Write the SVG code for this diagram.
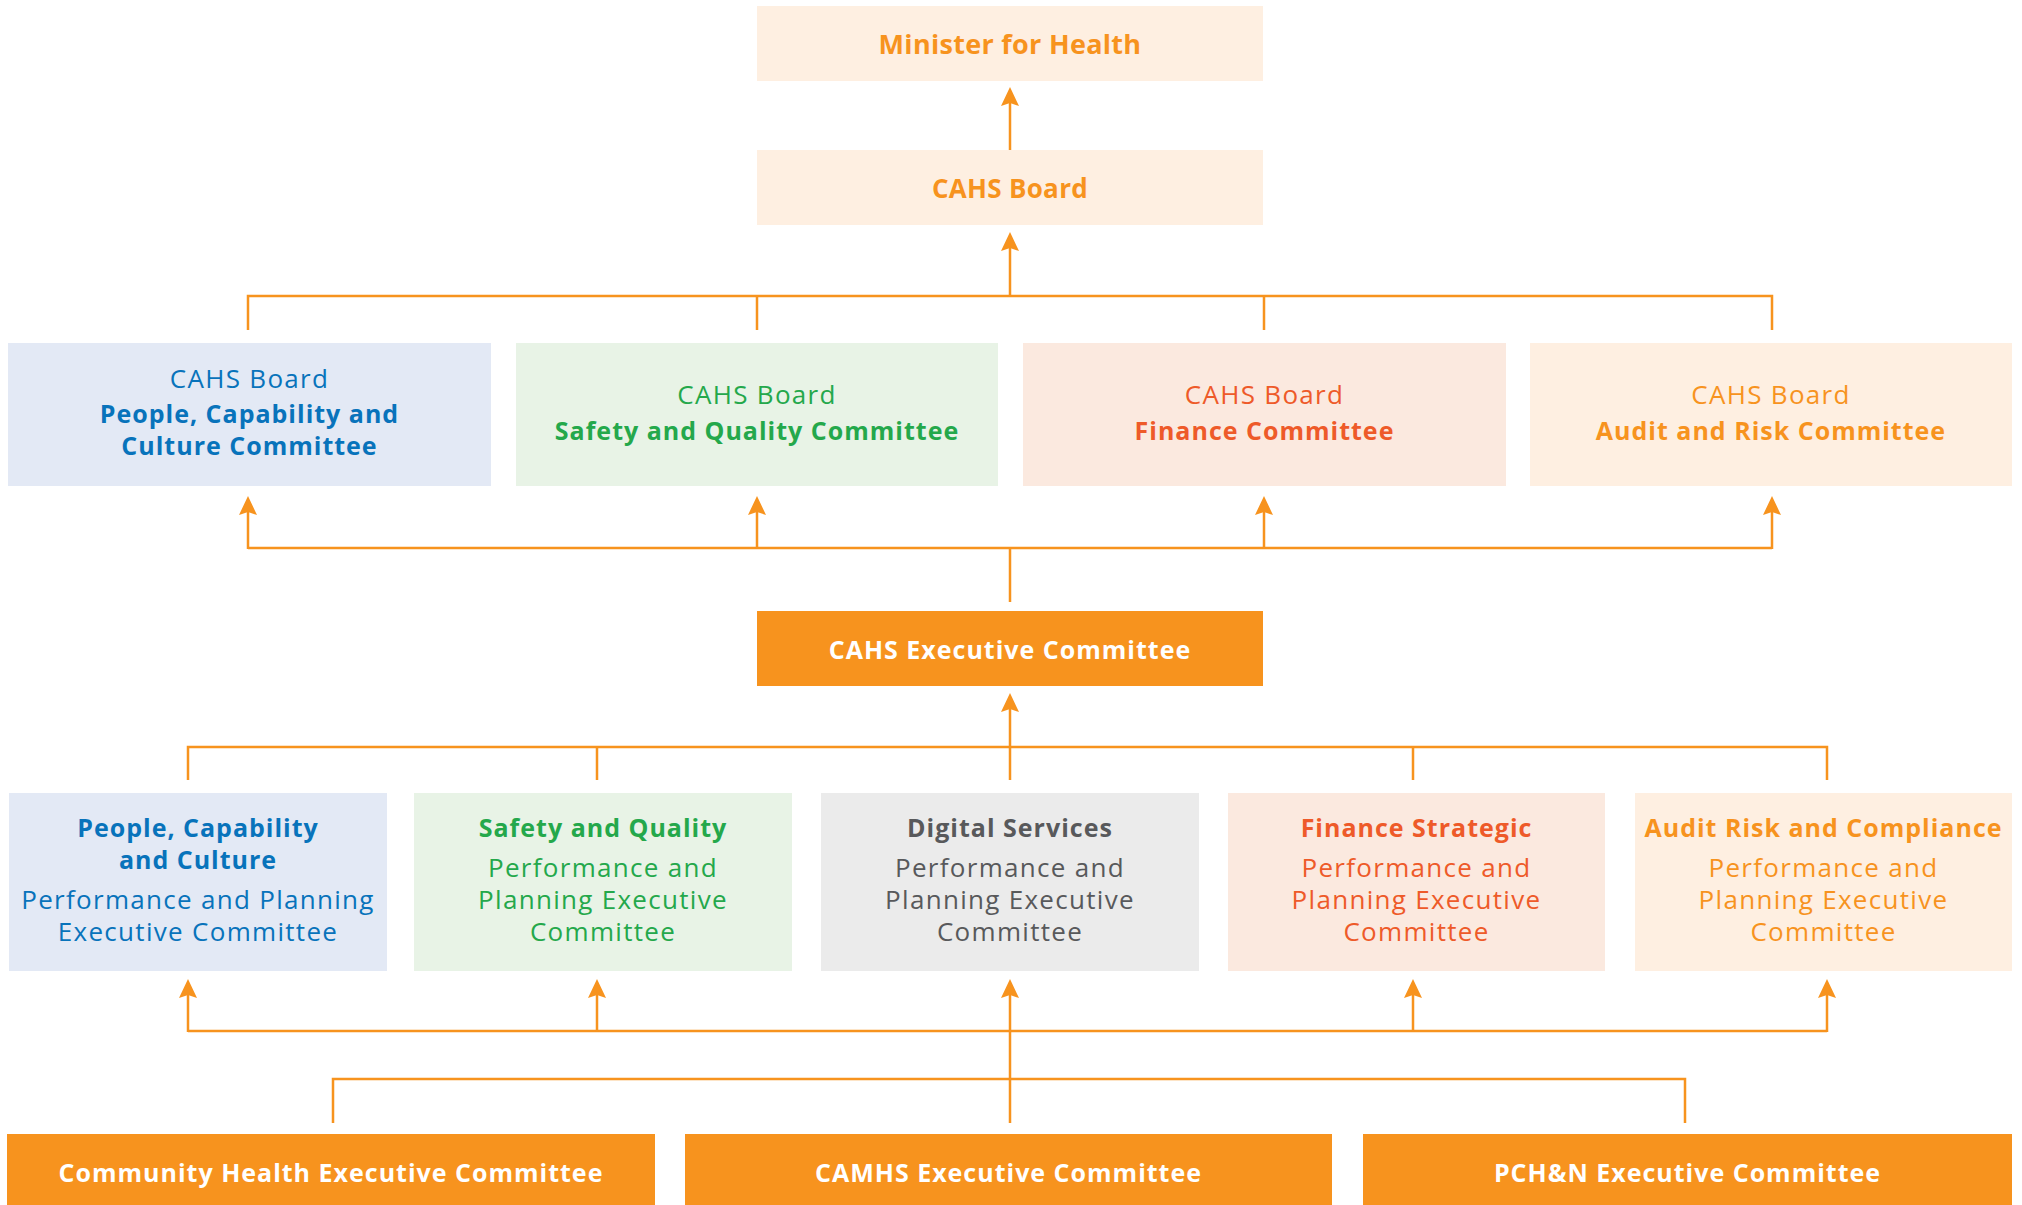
<svg xmlns="http://www.w3.org/2000/svg" width="2022" height="1205" viewBox="0 0 2022 1205">
<style>
.b{font-family:"Open Sans","Noto Sans",sans-serif;font-weight:700;font-size:25px;letter-spacing:1px;text-anchor:middle}
.r{font-family:"Open Sans","Noto Sans",sans-serif;font-weight:400;font-size:26px;letter-spacing:1.3px;text-anchor:middle}
.ln{stroke:#F7931E;stroke-width:2.5;fill:none}
.ar{marker-end:url(#ah)}
.orange{fill:#F7931E}
.peach{fill:#FEEFE1}
.blue{fill:#0873BB}
.green{fill:#24A84B}
.red{fill:#EE5A29}
.gray{fill:#58595B}
.white{fill:#FFFFFF}
</style>
<defs>
<marker id="ah" markerUnits="userSpaceOnUse" viewBox="-10 -10 21 20" refX="0" refY="0" markerWidth="21" markerHeight="20" orient="auto">
<path d="M10,0 L-9,-9 L-6,0 L-9,9 Z" fill="#F7931E"/>
</marker>
</defs>
<rect width="2022" height="1205" fill="#FFFFFF"/>

<g id="connectors">
<line class="ln ar" x1="1010" y1="150" x2="1010" y2="97"/>
<polyline class="ln" points="248,330 248,296 1772,296 1772,330"/>
<line class="ln" x1="757" y1="296" x2="757" y2="330"/>
<line class="ln" x1="1264" y1="296" x2="1264" y2="330"/>
<line class="ln ar" x1="1010" y1="296" x2="1010" y2="242"/>
<line class="ln" x1="1010" y1="602" x2="1010" y2="548"/>
<line class="ln" x1="248" y1="548" x2="1772" y2="548"/>
<line class="ln ar" x1="248" y1="549" x2="248" y2="506"/>
<line class="ln ar" x1="757" y1="549" x2="757" y2="506"/>
<line class="ln ar" x1="1264" y1="549" x2="1264" y2="506"/>
<line class="ln ar" x1="1772" y1="549" x2="1772" y2="506"/>
<polyline class="ln" points="188,780 188,747 1827,747 1827,780"/>
<line class="ln" x1="597" y1="747" x2="597" y2="780"/>
<line class="ln" x1="1413" y1="747" x2="1413" y2="780"/>
<line class="ln ar" x1="1010" y1="780" x2="1010" y2="703"/>
<line class="ln" x1="188" y1="1031" x2="1827" y2="1031"/>
<line class="ln ar" x1="188" y1="1032" x2="188" y2="989"/>
<line class="ln ar" x1="597" y1="1032" x2="597" y2="989"/>
<line class="ln ar" x1="1413" y1="1032" x2="1413" y2="989"/>
<line class="ln ar" x1="1827" y1="1032" x2="1827" y2="989"/>
<polyline class="ln" points="333,1123 333,1079 1685,1079 1685,1123"/>
<line class="ln ar" x1="1010" y1="1123" x2="1010" y2="989"/>
</g>

<g id="minister">
<rect class="peach" x="757" y="6" width="506" height="75"/>
<text class="b orange" x="1010" y="54" style="font-size:27px;letter-spacing:0.3px">Minister for Health</text>
</g>
<g id="cahs-board">
<rect class="peach" x="757" y="150" width="506" height="75"/>
<text class="b orange" x="1010" y="198" style="font-size:26px;letter-spacing:0.3px">CAHS Board</text>
</g>

<g id="board-pcc">
<rect x="8" y="343" width="483" height="143" fill="#E3E9F5"/>
<text class="r blue" x="249.5" y="388">CAHS Board</text>
<text class="b blue" x="249.5" y="423">People, Capability and</text>
<text class="b blue" x="249.5" y="455">Culture Committee</text>
</g>
<g id="board-sq">
<rect x="516" y="343" width="482" height="143" fill="#E8F3E6"/>
<text class="r green" x="757" y="404">CAHS Board</text>
<text class="b green" x="757" y="440">Safety and Quality Committee</text>
</g>
<g id="board-fin">
<rect x="1023" y="343" width="483" height="143" fill="#FBE9DF"/>
<text class="r red" x="1264.5" y="404">CAHS Board</text>
<text class="b red" x="1264.5" y="440">Finance Committee</text>
</g>
<g id="board-ar">
<rect x="1530" y="343" width="482" height="143" fill="#FEEFE1"/>
<text class="r orange" x="1771" y="404">CAHS Board</text>
<text class="b orange" x="1771" y="440">Audit and Risk Committee</text>
</g>

<g id="exec">
<rect class="orange" x="757" y="611" width="506" height="75"/>
<text class="b white" x="1010" y="659">CAHS Executive Committee</text>
</g>

<g id="ppe-pcc">
<rect x="9" y="793" width="378" height="178" fill="#E3E9F5"/>
<text class="b blue" x="198" y="837">People, Capability</text>
<text class="b blue" x="198" y="869">and Culture</text>
<text class="r blue" x="198" y="909">Performance and Planning</text>
<text class="r blue" x="198" y="941">Executive Committee</text>
</g>
<g id="ppe-sq">
<rect x="414" y="793" width="378" height="178" fill="#E8F3E6"/>
<text class="b green" x="603" y="837">Safety and Quality</text>
<text class="r green" x="603" y="877">Performance and</text>
<text class="r green" x="603" y="909">Planning Executive</text>
<text class="r green" x="603" y="941">Committee</text>
</g>
<g id="ppe-ds">
<rect x="821" y="793" width="378" height="178" fill="#EBEBEB"/>
<text class="b gray" x="1010" y="837">Digital Services</text>
<text class="r gray" x="1010" y="877">Performance and</text>
<text class="r gray" x="1010" y="909">Planning Executive</text>
<text class="r gray" x="1010" y="941">Committee</text>
</g>
<g id="ppe-fin">
<rect x="1228" y="793" width="377" height="178" fill="#FBE9DF"/>
<text class="b red" x="1416.5" y="837">Finance Strategic</text>
<text class="r red" x="1416.5" y="877">Performance and</text>
<text class="r red" x="1416.5" y="909">Planning Executive</text>
<text class="r red" x="1416.5" y="941">Committee</text>
</g>
<g id="ppe-arc">
<rect x="1635" y="793" width="377" height="178" fill="#FEEFE1"/>
<text class="b orange" x="1823.5" y="837">Audit Risk and Compliance</text>
<text class="r orange" x="1823.5" y="877">Performance and</text>
<text class="r orange" x="1823.5" y="909">Planning Executive</text>
<text class="r orange" x="1823.5" y="941">Committee</text>
</g>

<g id="community">
<rect class="orange" x="7" y="1134" width="648" height="80"/>
<text class="b white" x="331" y="1182">Community Health Executive Committee</text>
</g>
<g id="camhs">
<rect class="orange" x="685" y="1134" width="647" height="80"/>
<text class="b white" x="1008.5" y="1182">CAMHS Executive Committee</text>
</g>
<g id="pchn">
<rect class="orange" x="1363" y="1134" width="649" height="80"/>
<text class="b white" x="1687.5" y="1182">PCH&amp;N Executive Committee</text>
</g>
</svg>
